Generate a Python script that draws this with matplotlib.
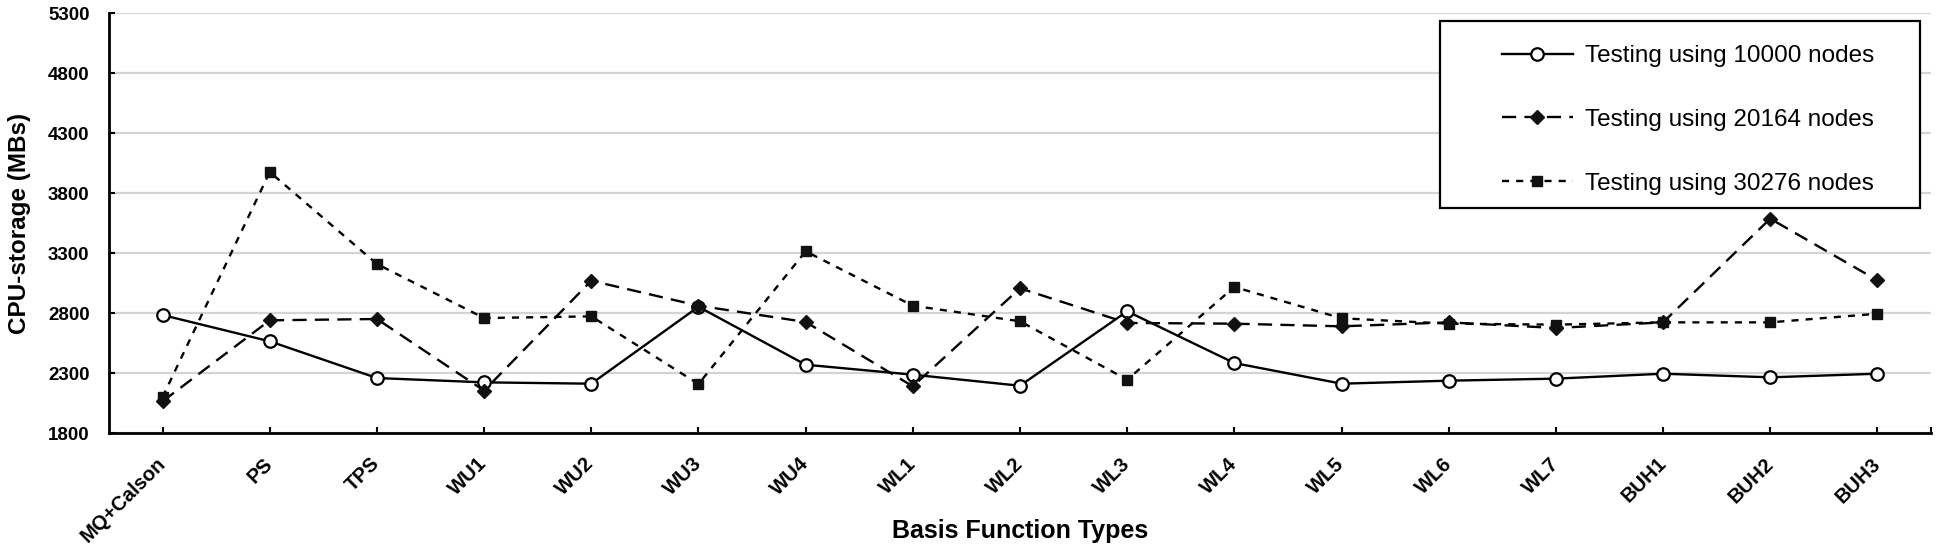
import matplotlib
matplotlib.use("Agg")
import matplotlib.pyplot as plt
from matplotlib.patches import Rectangle

plt.rcParams['font.family'] = ['Liberation Sans', 'DejaVu Sans']

categorias = ['MQ+Calson', 'PS', 'TPS', 'WU1', 'WU2', 'WU3', 'WU4', 'WL1', 'WL2',
              'WL3', 'WL4', 'WL5', 'WL6', 'WL7', 'BUH1', 'BUH2', 'BUH3']
nodos_10000 = [2783, 2564, 2258, 2222, 2211, 2852, 2369, 2286, 2194,
               2814, 2383, 2211, 2236, 2253, 2294, 2264, 2294]
nodos_20164 = [2064, 2739, 2750, 2153, 3069, 2861, 2725, 2189, 3006,
               2717, 2711, 2689, 2722, 2675, 2722, 3586, 3072]
nodos_30276 = [2100, 3975, 3208, 2758, 2772, 2208, 3314, 2861, 2731,
               2244, 3017, 2756, 2711, 2703, 2722, 2722, 2794]
etiquetas = ['Testing using 10000 nodes', 'Testing using 20164 nodes',
             'Testing using 30276 nodes']

W, H = 1938, 553
fig = plt.figure(figsize=(W / 100, H / 100), dpi=100)
ax = fig.add_axes([109 / W, 1 - 433 / H, (1931 - 109) / W, (433 - 13) / H])

x = list(range(len(categorias)))
ax.plot(x, nodos_10000, color='black', lw=1.7, marker='o', ms=9,
        mfc='white', mec='black', mew=1.6, label=etiquetas[0], zorder=3)
ax.plot(x, nodos_20164, color='black', lw=1.7, dashes=(6, 3.5), marker='D',
        ms=7, mfc='#111111', mec='#111111', label=etiquetas[1], zorder=3)
ax.plot(x, nodos_30276, color='black', lw=1.7, dashes=(3, 3), marker='s',
        ms=6.5, mfc='#111111', mec='#111111', label=etiquetas[2], zorder=3)

ax.set_xlim(-0.5, len(categorias) - 0.5)
ax.set_ylim(1800, 5300)
ax.set_yticks(range(1800, 5301, 500))
ax.grid(axis='y', color='#d4d4d4', lw=1.6)
ax.set_axisbelow(True)

for s in ['top', 'right']:
    ax.spines[s].set_visible(False)
for s in ['left', 'bottom']:
    ax.spines[s].set_linewidth(2)

ax.set_xticks(x)
ax.set_xticks([len(categorias) - 0.5], minor=True)
ax.set_xticklabels(categorias, rotation=45, ha='right', va='center',
                   rotation_mode='anchor', fontsize=14.5, fontweight='bold')
ax.tick_params(axis='x', which='both', direction='in', length=4, width=1.5, pad=20)
ax.tick_params(axis='y', direction='in', length=4, width=1.5, pad=14,
               labelsize=13.5)
for t in ax.get_yticklabels():
    t.set_fontweight('bold')

ax.set_xlabel('Basis Function Types', fontsize=18, fontweight='bold')
ax.xaxis.set_label_coords(0.5, -0.205)
ax.set_ylabel('CPU-storage (MBs)', fontsize=17.5, fontweight='bold')
ax.yaxis.set_label_coords(-0.043, 0.5)

caja = Rectangle((1440 / W, 1 - 208 / H), 480 / W, 187 / H, transform=fig.transFigure,
                 facecolor='white', edgecolor='black', lw=1.6, zorder=4)
fig.patches.append(caja)
handles, labels = ax.get_legend_handles_labels()
fig.legend(handles, labels, loc='upper left', bbox_to_anchor=(1490 / W, 1 - 33 / H),
           frameon=False, borderpad=0, fontsize=17.5, handlelength=2.9,
           handletextpad=0.5, labelspacing=1.72)

fig.savefig('out.png', dpi=100)
